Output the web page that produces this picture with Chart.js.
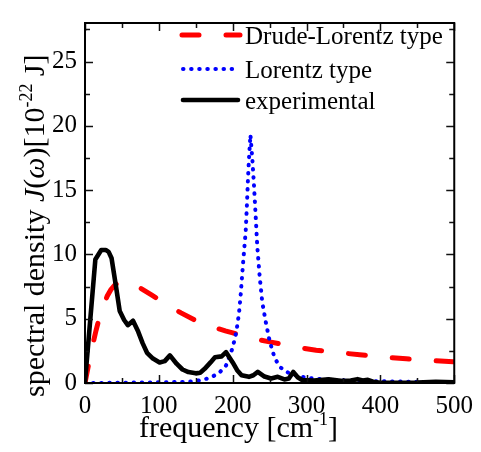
<!DOCTYPE html>
<html>
<head>
<meta charset="utf-8">
<script src="https://cdn.jsdelivr.net/npm/chart.js@4"></script>
<style>
html, body { margin: 0; padding: 0; background: #fff; }
#wrap { position: relative; width: 481px; height: 452px; }
</style>
</head>
<body>
<div id="wrap"><canvas id="chart"></canvas></div>
<script>
// axis ticks
const xTicks = [0, 100, 200, 300, 400, 500];
const yTicks = [0, 5, 10, 15, 20, 25];
const seriesNames = ['Drude-Lorentz type', 'Lorentz type', 'experimental'];

// Drude-Lorentz type (red dashed)
const drudeFreq = [0, 3, 6, 10, 15, 20, 25, 30, 35, 40, 45, 50, 56, 62, 70, 80, 90, 100, 115, 130, 150, 165, 190, 200, 220, 250, 285, 313, 345, 372, 408, 435, 468, 500];
const drudeVals = [0, 0.9, 1.76, 2.86, 4.1, 5.2, 6.05, 6.75, 7.25, 7.6, 7.8, 7.85, 7.85, 7.75, 7.55, 7.2, 6.85, 6.5, 5.95, 5.45, 4.85, 4.5, 4.05, 3.9, 3.55, 3.2, 2.8, 2.55, 2.35, 2.2, 2.0, 1.88, 1.75, 1.64];

// Lorentz type (blue dotted)
const lorentzFreq = [0, 50, 100, 130, 146, 158, 169, 181, 191, 200, 205, 208.5, 211, 214, 217.6, 219.3, 220.7, 222, 224, 226.6, 228.8, 231, 233.3, 236.5, 240, 244.6, 250, 256.8, 264, 277, 300, 322, 349, 380, 420, 460, 500];
const lorentzVals = [0, 0.02, 0.05, 0.08, 0.12, 0.23, 0.4, 0.75, 1.36, 2.75, 4.0, 5.4, 7.0, 9.3, 11.8, 13.9, 15.9, 17.4, 19.3, 17.4, 15.4, 13.1, 10.6, 8.3, 6.3, 4.8, 3.26, 1.95, 1.24, 0.73, 0.4, 0.28, 0.22, 0.15, 0.12, 0.08, 0.06];

// experimental (black)
const expFreq = [0, 14, 22, 28, 32, 36, 42, 47, 53, 58, 65, 72, 78, 84, 92, 101, 108, 115, 124, 132, 140, 150, 156, 162, 170, 176, 185, 191, 200, 206, 212, 222, 228, 234, 243, 252, 261, 270, 276, 282, 288, 294, 310, 330, 349, 360, 369, 376, 383, 390, 400, 450, 475, 500];
const expVals = [0.1, 9.6, 10.35, 10.35, 10.2, 9.7, 7.5, 5.6, 4.9, 4.5, 4.85, 4.0, 3.1, 2.35, 1.9, 1.6, 1.7, 2.15, 1.5, 1.05, 0.85, 0.75, 0.8, 1.1, 1.6, 2.0, 2.07, 2.4, 1.6, 1.0, 0.6, 0.48, 0.6, 0.86, 0.5, 0.35, 0.48, 0.28, 0.35, 0.86, 0.45, 0.23, 0.2, 0.28, 0.15, 0.2, 0.3, 0.2, 0.25, 0.1, 0.02, 0.03, 0.1, 0.05];

function pts(xs, ys) {
  return xs.map((x, i) => ({x: x, y: ys[i]}));
}

const SERIF = '"Liberation Serif", "Times New Roman", serif';
Chart.defaults.font.family = SERIF;

const datasets = [
  {
    label: seriesNames[0],
    data: pts(drudeFreq, drudeVals),
    borderColor: '#ff0000',
    borderWidth: 5,
    borderDash: [17, 27],
    borderCapStyle: 'round',
    order: 2
  },
  {
    label: seriesNames[1],
    data: pts(lorentzFreq, lorentzVals),
    borderColor: '#0000ff',
    borderWidth: 4,
    borderDash: [0.5, 7.6],
    borderCapStyle: 'round',
    order: 1
  },
  {
    label: seriesNames[2],
    data: pts(expFreq, expVals),
    borderColor: '#000000',
    borderWidth: 4.6,
    borderJoinStyle: 'round',
    borderCapStyle: 'round',
    order: 0
  }
];

// frame, inward ticks, legend and axis titles
const decor = {
  id: 'decor',
  afterDraw(chart) {
    const ctx = chart.ctx;
    const a = chart.chartArea;
    const xs = chart.scales.x, ys = chart.scales.y;
    ctx.save();
    ctx.strokeStyle = '#111';
    ctx.lineWidth = 1.5;
    ctx.beginPath();
    for (let v = 0; v <= 500; v += 50) {
      const px = Math.round(xs.getPixelForValue(v)) + 0.5;
      const len = v % 100 === 0 ? 8 : 5;
      ctx.moveTo(px, a.bottom); ctx.lineTo(px, a.bottom - len);
      ctx.moveTo(px, a.top); ctx.lineTo(px, a.top + len);
    }
    for (let v = 0; v <= 27.5; v += 2.5) {
      const py = Math.round(ys.getPixelForValue(v)) + 0.5;
      const len = v % 5 === 0 ? 8 : 5;
      ctx.moveTo(a.left, py); ctx.lineTo(a.left + len, py);
      ctx.moveTo(a.right, py); ctx.lineTo(a.right - len, py);
    }
    ctx.stroke();
    ctx.lineWidth = 2;
    ctx.strokeStyle = '#000';
    ctx.strokeRect(a.left, a.top, a.right - a.left, a.bottom - a.top);

    // legend
    const legendY = [35, 69, 100];
    chart.data.datasets.forEach((ds, i) => {
      const y = legendY[i];
      ctx.save();
      ctx.strokeStyle = ds.borderColor;
      ctx.lineWidth = ds.borderWidth;
      ctx.lineCap = ds.borderCapStyle || 'butt';
      ctx.setLineDash(ds.borderDash || []);
      ctx.beginPath();
      ctx.moveTo(i === 0 ? 182 : 183, y);
      ctx.lineTo(i === 0 ? 240 : 238, y);
      ctx.stroke();
      ctx.restore();
      ctx.fillStyle = '#000';
      ctx.font = '25px ' + SERIF;
      ctx.textAlign = 'left';
      ctx.textBaseline = 'alphabetic';
      ctx.fillText(ds.label, 245, y + 9);
    });

    // text runs with superscripts
    function runs(parts, x, y) {
      parts.forEach(p => {
        ctx.font = p.font;
        ctx.fillText(p.t, x, y - (p.up || 0));
        x += ctx.measureText(p.t).width;
      });
    }
    ctx.fillStyle = '#000';
    ctx.textAlign = 'left';
    ctx.textBaseline = 'alphabetic';
    const big = '30px ' + SERIF, ital = 'italic 30px ' + SERIF, sup = '18px ' + SERIF;
    runs([
      {t: 'frequency [cm', font: big},
      {t: '-1', font: sup, up: 12},
      {t: ']', font: big}
    ], 139, 437);

    ctx.save();
    ctx.translate(44, 397);
    ctx.rotate(-Math.PI / 2);
    runs([
      {t: 'spectral density ', font: big},
      {t: 'J', font: ital},
      {t: '(', font: big},
      {t: 'ω', font: ital},
      {t: ')', font: big},
      {t: '[10', font: big},
      {t: '-22', font: sup, up: 12},
      {t: ' J]', font: big}
    ], 0, 0);
    ctx.restore();
    ctx.restore();
  }
};

new Chart(document.getElementById('chart'), {
  type: 'line',
  data: { datasets: datasets },
  options: {
    responsive: true,
    maintainAspectRatio: false,
    animation: false,
    events: [],
    layout: { padding: { top: 14, right: 26, left: 0, bottom: 0 } },
    elements: { point: { radius: 0 }, line: { tension: 0 } },
    plugins: { legend: { display: false }, tooltip: { enabled: false } },
    scales: {
      x: {
        type: 'linear',
        min: 0,
        max: 500,
        afterBuildTicks: s => { s.ticks = xTicks.map(v => ({value: v})); },
        afterFit: s => { s.height = 69; },
        grid: { drawOnChartArea: false, drawTicks: false },
        border: { display: false },
        ticks: { color: '#000', padding: 8, maxRotation: 0, font: { family: SERIF, size: 25 } }
      },
      y: {
        type: 'linear',
        min: 0,
        max: 28,
        afterBuildTicks: s => { s.ticks = yTicks.map(v => ({value: v})); },
        afterFit: s => { s.width = 85; },
        grid: { drawOnChartArea: false, drawTicks: false },
        border: { display: false },
        ticks: { color: '#000', padding: 8, font: { family: SERIF, size: 25 } }
      }
    }
  },
  plugins: [decor]
});
</script>
</body>
</html>
